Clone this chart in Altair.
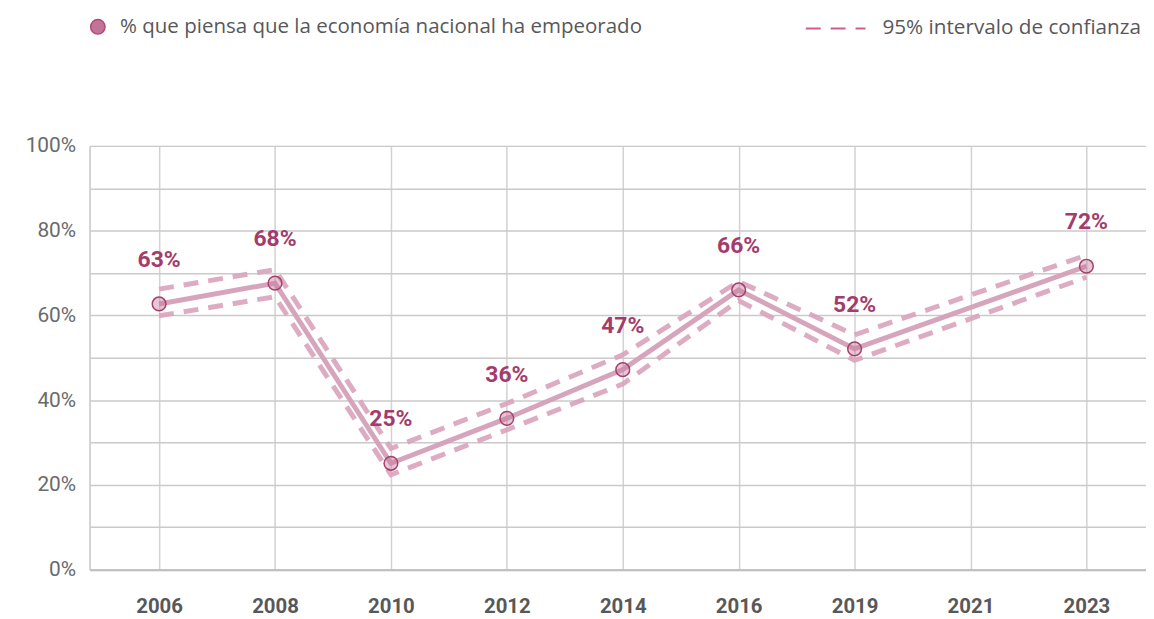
import altair as alt
import pandas as pd

years_axis = ["2006", "2008", "2010", "2012", "2014", "2016", "2019", "2021", "2023"]
years = ["2006", "2008", "2010", "2012", "2014", "2016", "2019", "2023"]
values = [62.7, 67.6, 25.1, 35.7, 47.2, 66.0, 52.1, 71.6]
upper = [66.2, 70.8, 28.6, 39.2, 50.7, 68.0, 55.4, 74.2]
lower = [59.9, 64.4, 22.4, 33.0, 43.8, 63.5, 49.4, 69.0]
label_text = ["63%", "68%", "25%", "36%", "47%", "66%", "52%", "72%"]

series_name = "% que piensa que la economía nacional ha empeorado"
ci_name = "95% intervalo de confianza"

df = pd.DataFrame({
    "year": years,
    "value": values,
    "upper": upper,
    "lower": lower,
    "label": label_text,
    "serie": series_name,
    "ci": ci_name,
})

x_enc = alt.X(
    "year:O",
    scale=alt.Scale(type="point", domain=years_axis, padding=0.557, align=0.5385),
    axis=alt.Axis(
        title=None, labelAngle=0, ticks=False, labelPadding=27,
        labelFont="Roboto", labelFontSize=20.5, labelFontWeight="bold", labelColor="#58585a",
        grid=True, gridColor="#d2d2d2", gridWidth=1.5,
        domainColor="#bdbdbd", domainWidth=2,
    ),
)
y_scale = alt.Scale(domain=[0, 100], nice=False)
y_axis = alt.Axis(
    title=None, values=list(range(0, 101, 10)),
    labelExpr="datum.value % 20 == 0 ? datum.value + '%' : ''",
    ticks=False, labelPadding=14,
    labelFont="Roboto", labelFontSize=21, labelColor="#6a6a6c",
    grid=True, gridColor="#cacaca", gridWidth=1.5,
    domainColor="#cacaca", domainWidth=1.5,
)

base = alt.Chart(df)

ci = base.transform_fold(["upper", "lower"], as_=["bound", "ci_val"]).mark_line(
    strokeWidth=5, color="#d9a3bb", opacity=0.9
).encode(
    x=x_enc,
    y=alt.Y("ci_val:Q", scale=y_scale, axis=y_axis),
    detail="bound:N",
    strokeDash=alt.StrokeDash(
        "ci:N",
        scale=alt.Scale(domain=[ci_name], range=[[15, 10]]),
        legend=alt.Legend(
            title=None, orient="none", legendX=719, legendY=-149,
            symbolType="stroke", symbolSize=3600, symbolStrokeWidth=2,
            symbolStrokeColor="#cf4a7e", labelFont="Open Sans", labelFontSize=20.8,
            labelColor="#58585a", labelOffset=16, padding=0, labelLimit=0,
        ),
    ),
)

line = base.mark_line(strokeWidth=5, color="#d4a0b8", opacity=0.95).encode(
    x=x_enc,
    y=alt.Y("value:Q", scale=y_scale),
)

points = base.mark_point(filled=True, size=190, opacity=1, fillOpacity=0.4,
                         stroke="#a63f6c", strokeWidth=1.5).encode(
    x=x_enc,
    y=alt.Y("value:Q", scale=y_scale),
    fill=alt.Fill(
        "serie:N",
        scale=alt.Scale(domain=[series_name], range=["#c27496"]),
        legend=alt.Legend(
            title=None, orient="none", legendX=-2, legendY=-130,
            symbolType="circle", symbolSize=210, symbolStrokeColor="#b04a78",
            symbolStrokeWidth=1.5, symbolOpacity=1, symbolFillColor="#cc82a4",
            labelFont="Open Sans", labelFontSize=20.6, labelColor="#58585a",
            labelOffset=12, padding=0, labelLimit=0,
        ),
    ),
)

labels = base.mark_text(
    dy=-44, font="Roboto", fontSize=23, fontWeight="bold", color="#a43c6b"
).encode(
    x=x_enc,
    y=alt.Y("value:Q", scale=y_scale),
    text="label:N",
)

chart = alt.layer(ci, line, points, labels).properties(
    width=1062, height=426,
    autosize=alt.AutoSizeParams(type="none"),
    padding={"left": 82, "top": 137, "right": 0, "bottom": 47},
).configure_view(stroke=None).configure(background="white")

chart.save("out.html", embed_options={"renderer": "svg", "actions": False})
